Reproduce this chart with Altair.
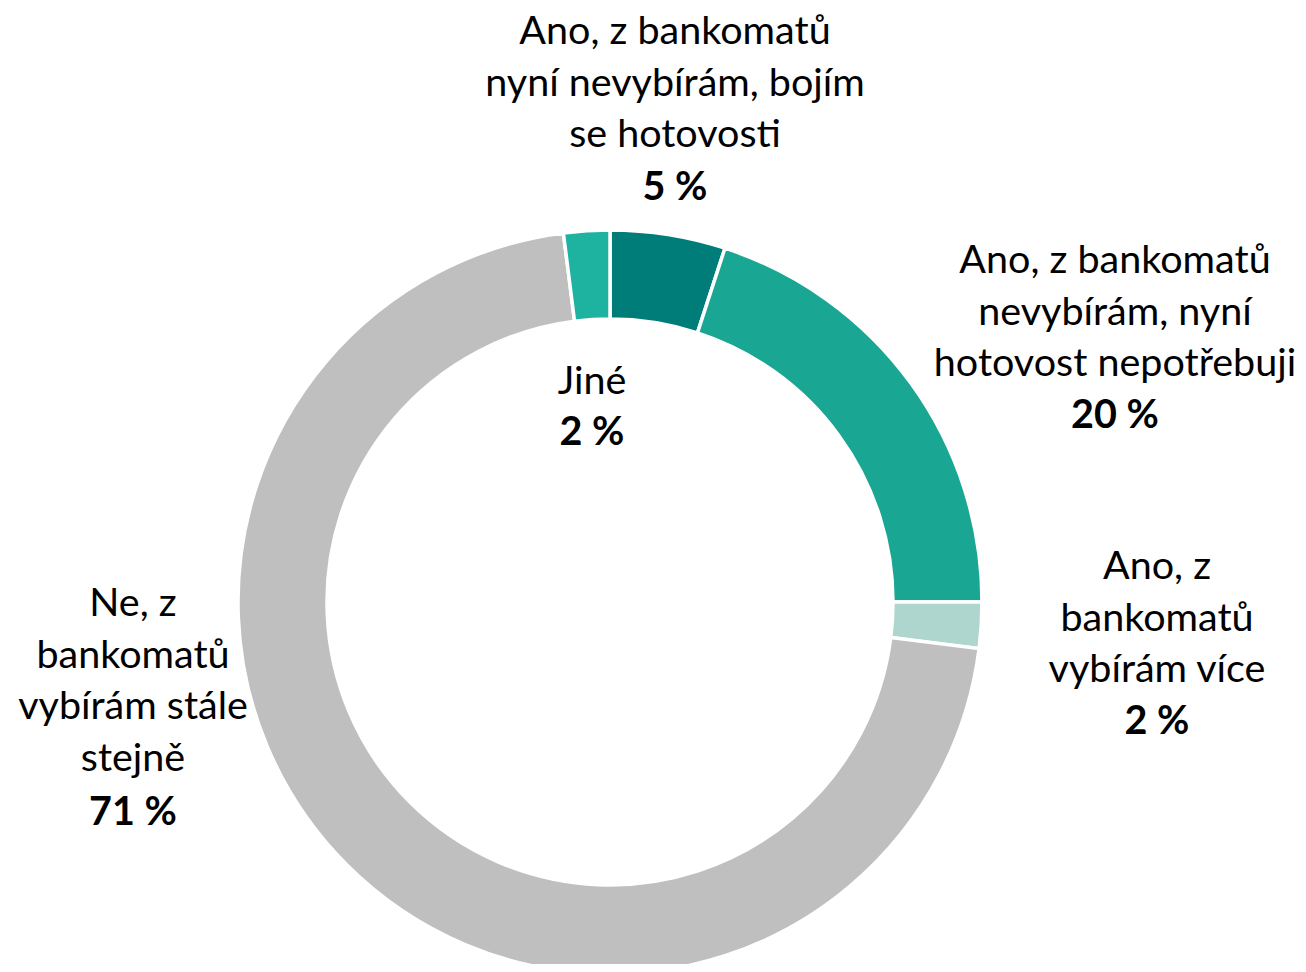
import altair as alt
import pandas as pd

categories = [
    "Ano, z bankomatů nyní nevybírám, bojím se hotovosti",
    "Ano, z bankomatů nevybírám, nyní hotovost nepotřebuji",
    "Ano, z bankomatů vybírám více",
    "Ne, z bankomatů vybírám stále stejně",
    "Jiné",
]
values = [5, 20, 2, 71, 2]
colors = ["#007D78", "#19A693", "#AED6CF", "#BFBFBF", "#1DB3A0"]
label_lines = [
    ["Ano, z bankomatů", "nyní nevybírám, bojím", "se hotovosti"],
    ["Ano, z bankomatů", "nevybírám, nyní", "hotovost nepotřebuji"],
    ["Ano, z", "bankomatů", "vybírám více"],
    ["Ne, z", "bankomatů", "vybírám stále", "stejně"],
    ["Jiné"],
]
value_labels = ["5 %", "20 %", "2 %", "71 %", "2 %"]

# layout (pixel positions of label blocks, chart coordinates)
label_cx = [667, 1107, 1149, 125, 584]
label_cy = [24, 253, 559, 596, 374]
value_cy = [180, 408, 714, 805, 425]

W, H = 1290, 956
CX, CY = 602, 594
R_OUT, R_IN = 372, 283
FONT = "Lato"
FS = 39.5

df = pd.DataFrame({
    "category": categories,
    "value": values,
    "order": list(range(len(values))),
})

arc = alt.Chart(df).mark_arc(
    radius=R_OUT, radius2=R_IN, stroke="white", strokeWidth=3.5
).encode(
    theta=alt.Theta("value:Q", stack=True),
    order=alt.Order("order:Q"),
    color=alt.Color("category:N", scale=alt.Scale(domain=categories, range=colors), legend=None),
    x=alt.value(CX),
    y=alt.value(CY),
)

lab_df = pd.DataFrame({
    "lines": label_lines,
    "lx": label_cx,
    "ly": label_cy,
    "vy": value_cy,
    "val": value_labels,
})

labels = alt.Chart(lab_df).mark_text(
    font=FONT, fontSize=FS, color="#000000", align="center", baseline="middle", lineHeight=51.5
).encode(
    x=alt.X("lx:Q", scale=None),
    y=alt.Y("ly:Q", scale=None),
    text="lines",
)

vals = alt.Chart(lab_df).mark_text(
    font=FONT, fontSize=FS, fontWeight="bold", color="#000000", align="center", baseline="middle"
).encode(
    x=alt.X("lx:Q", scale=None),
    y=alt.Y("vy:Q", scale=None),
    text="val:N",
)

chart = alt.layer(arc, labels, vals).properties(
    width=W, height=H, padding=0, autosize="none"
).configure_view(stroke=None)

chart.save("out.html", embed_options={"renderer": "svg", "actions": False})
